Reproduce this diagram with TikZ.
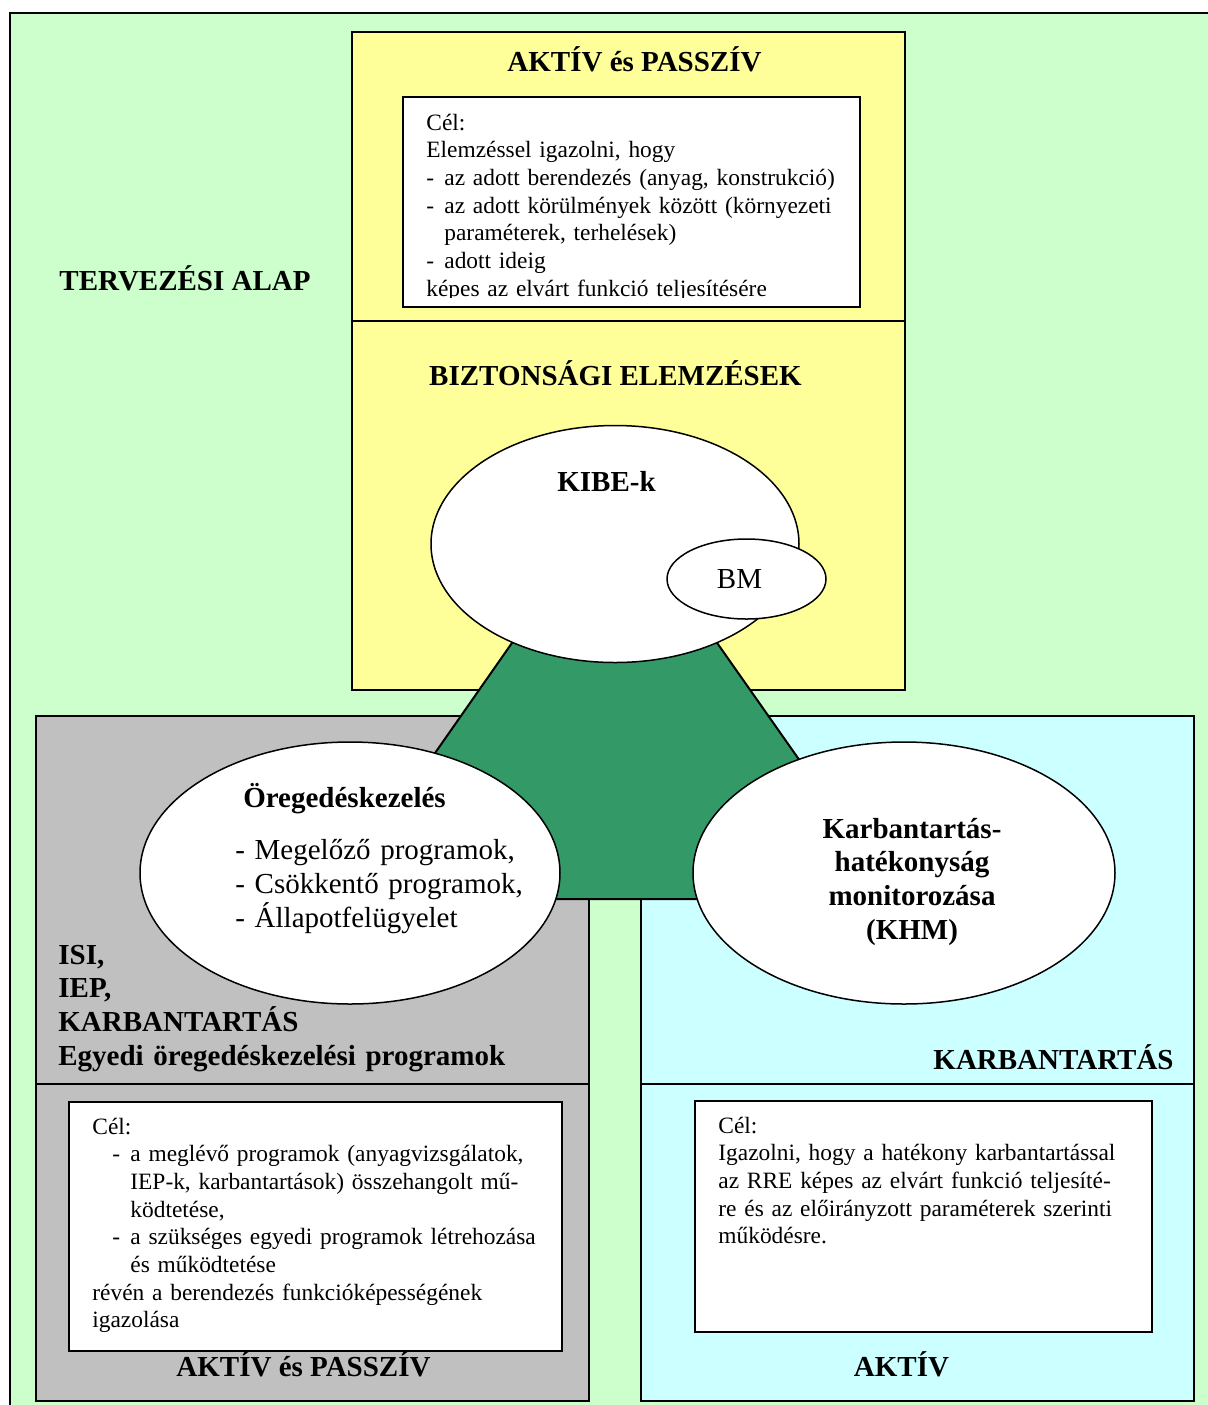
\documentclass[tikz,border=0pt]{standalone}
\usepackage{fontspec}
\setmainfont{Liberation Serif}
\definecolor{bggreen}{HTML}{CCFFCC}
\definecolor{safeyellow}{HTML}{FFFF99}
\definecolor{agegray}{HTML}{C0C0C0}
\definecolor{maintcyan}{HTML}{CCFFFF}
\definecolor{hubgreen}{HTML}{339966}
\newcommand{\dashitem}[1]{\hspace*{#1}\makebox[9pt][l]{-}}

\begin{document}
\begin{tikzpicture}[x=0.5pt,y=-0.5pt,
  panel/.style={draw=black,line width=1pt,fill=#1},
  oval/.style={draw=black,line width=0.75pt,fill=white},
  head/.style={font=\fontsize{14.5}{16.9}\selectfont\bfseries,inner sep=0pt,anchor=base},
  big/.style={font=\fontsize{14.5}{16.9}\selectfont,inner sep=0pt,anchor=base},
  body/.style={font=\fontsize{11.7}{13.85}\selectfont,inner sep=0pt,anchor=base west,align=left,text width=#1},
  lines/.style={inner sep=0pt,anchor=base west,align=left,text width=#1}]
  \useasboundingbox (0,0) rectangle (1208,1405);
  \clip (0,0) rectangle (1208,1405);
  % ---------- background
  \fill[white] (0,0) rectangle (1208,1405);
  \draw[panel=bggreen] (10,13) rectangle (1240,1440);
  \node[head] (design) at (185,290) {TERVEZÉSI ALAP};
  % ---------- safety analyses
  \draw[panel=safeyellow] (352,32) rectangle (905,690);
  \draw[line width=1pt] (352,321) -- (905,321);
  \draw[panel=white] (403,97) rectangle (860,307);
  \node[head] (tpas) at (634.5,71) {AKTÍV és PASSZÍV};
  \begin{scope}
    \clip (404,98) rectangle (859,297);
    \node[body=212pt] (tgoal) at (426,130) {Cél:\\
      Elemzéssel igazolni, hogy\\
      \dashitem{0pt}az adott berendezés (anyag, konstrukció)\\
      \dashitem{0pt}az adott körülmények között (környezeti\\
      \hspace*{9pt}paraméterek, terhelések)\\
      \dashitem{0pt}adott ideig\\
      képes az elvárt funkció teljesítésére};
  \end{scope}
  \node[head] (safety) at (615.5,385) {BIZTONSÁGI ELEMZÉSEK};
  % ---------- ageing management
  \draw[panel=agegray] (36,716) rectangle (589,1401);
  \draw[line width=1pt] (36,1084) -- (589,1084);
  \draw[panel=white] (69,1102) rectangle (562,1351);
  \node[lines=260pt,font=\fontsize{14.5}{16.9}\selectfont\bfseries] (isi) at (58,964)
    {ISI,\\IEP,\\KARBANTARTÁS\\Egyedi öregedéskezelési programok};
  \node[body=230pt] (lgoal) at (92,1134) {Cél:\\
    \dashitem{10pt}a meglévő programok (anyagvizsgálatok,\\
    \hspace*{19pt}IEP-k, karbantartások) összehangolt mű-\\
    \hspace*{19pt}ködtetése,\\
    \dashitem{10pt}a szükséges egyedi programok létrehozása\\
    \hspace*{19pt}és működtetése\\
    révén a berendezés funkcióképességének\\
    igazolása};
  \node[head] (lpas) at (303.5,1376) {AKTÍV és PASSZÍV};
  % ---------- maintenance
  \draw[panel=maintcyan] (641,716) rectangle (1194,1401);
  \draw[line width=1pt] (641,1084) -- (1194,1084);
  \draw[panel=white] (695,1101) rectangle (1152,1332);
  \node[head,anchor=base east] (maint) at (1174,1069) {KARBANTARTÁS};
  \node[body=215pt] (rgoal) at (718,1133) {Cél:\\
    Igazolni, hogy a hatékony karbantartással\\
    az RRE képes az elvárt funkció teljesíté-\\
    re és az előirányzott paraméterek szerinti\\
    működésre.};
  \node[head] (ract) at (901.5,1376) {AKTÍV};
  % ---------- hub
  \filldraw[fill=hubgreen,draw=black,line width=1pt]
    (528,620) -- (701,620) -- (897,899) -- (333,899) -- cycle;
  % ---------- ovals
  \draw[oval] (615,544) ellipse [x radius=184, y radius=118.5];
  \node[head] (kibe) at (606.5,491) {KIBE-k};
  \draw[oval] (746.5,579) ellipse [x radius=79.5, y radius=40];
  \node[big] (bm) at (739.5,588) {BM};
  \draw[oval] (350,873) ellipse [x radius=210, y radius=131];
  \node[head] (ageing) at (344.5,807) {Öregedéskezelés};
  \node[lines=150pt,font=\fontsize{14.5}{17}\selectfont] (agelist) at (235,859)
    {- Megelőző programok,\\- Csökkentő programok,\\- Állapotfelügyelet};
  \draw[oval] (904,873) ellipse [x radius=211, y radius=131];
  \node[head,align=center,text width=130pt] (khm) at (912,838)
    {Karbantartás-\\hatékonyság\\monitorozása\\(KHM)};
\end{tikzpicture}
\end{document}
